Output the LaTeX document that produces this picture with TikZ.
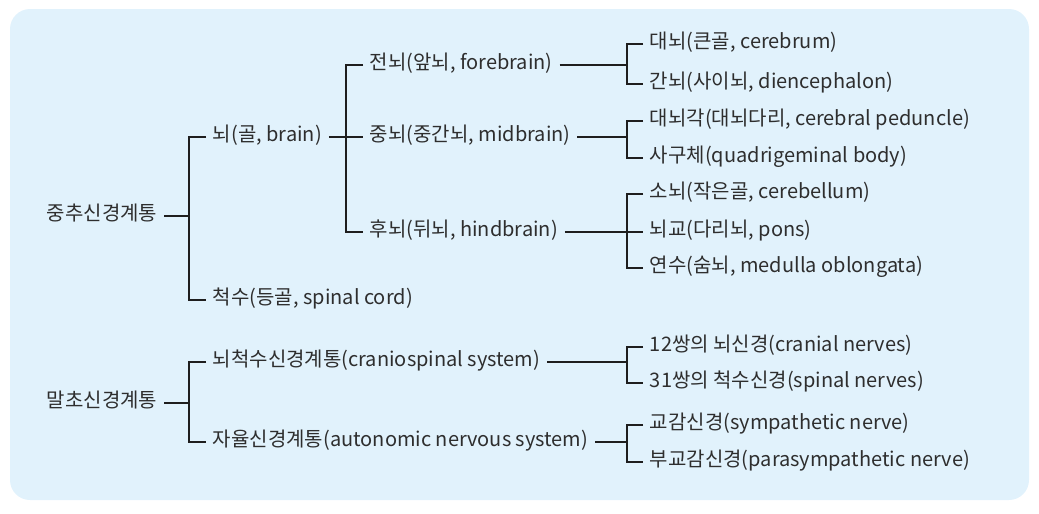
\documentclass[tikz,border=0pt]{standalone}
\usepackage{fontspec}
\setmainfont{Noto Sans CJK KR}
\definecolor{bgc}{HTML}{E1F2FC}
\definecolor{txt}{HTML}{2E2E2E}
\definecolor{lnc}{HTML}{1E1E1E}
\begin{document}
\begin{tikzpicture}[x=0.75pt,y=-0.75pt,
  lbl/.style={anchor=west, inner xsep=5pt, inner ysep=0pt, text height=0.8em, text depth=0.2em,
    font=\fontsize{15pt}{18pt}\selectfont, text=txt},
  ln/.style={draw=lnc, line width=0.9pt}]
\useasboundingbox (0,0) rectangle (1039,514);
\fill[bgc, rounded corners=15pt] (10,9) rectangle (1029,500);

% column anchors
\coordinate (a0) at (189,0);
\coordinate (a1) at (346,0);
\coordinate (a2) at (627,0);

% central nervous system
\node[lbl] (cns) at (40,216) {중추신경계통};
\node[lbl] (brain) at (206,137) {뇌(골, brain)};
\node[lbl] (spinal) at (206,300) {척수(등골, spinal cord)};
\node[lbl] (fore) at (363,65) {전뇌(앞뇌, forebrain)};
\node[lbl] (mid) at (363,137) {중뇌(중간뇌, midbrain)};
\node[lbl] (hind) at (363,232) {후뇌(뒤뇌, hindbrain)};
\node[lbl] (cere) at (643,44) {대뇌(큰골, cerebrum)};
\node[lbl] (dien) at (643,84) {간뇌(사이뇌, diencephalon)};
\node[lbl] (ped) at (643,121) {대뇌각(대뇌다리, cerebral peduncle)};
\node[lbl] (quad) at (643,158) {사구체(quadrigeminal body)};
\node[lbl] (cbl) at (643,194) {소뇌(작은골, cerebellum)};
\node[lbl] (pons) at (643,232) {뇌교(다리뇌, pons)};
\node[lbl] (med) at (643,268) {연수(숨뇌, medulla oblongata)};

% peripheral nervous system
\node[lbl] (pns) at (40,403) {말초신경계통};
\node[lbl] (cran) at (206,362) {뇌척수신경계통(craniospinal system)};
\node[lbl] (auto) at (206,442) {자율신경계통(autonomic nervous system)};
\node[lbl] (cn) at (643,347) {12쌍의 뇌신경(cranial nerves)};
\node[lbl] (sn) at (643,383) {31쌍의 척수신경(spinal nerves)};
\node[lbl] (sym) at (643,425) {교감신경(sympathetic nerve)};
\node[lbl] (para) at (643,462) {부교감신경(parasympathetic nerve)};

% connectors
\draw[ln] (cns.east) -- (cns.east -| a0);
\draw[ln] (brain.west) -- (brain.west -| a0) |- (spinal.west);
\draw[ln] (brain.east) -- (mid.west);
\draw[ln] (fore.west) -- (fore.west -| a1) |- (hind.west);
\draw[ln] (fore.east) -- (fore.east -| a2);
\draw[ln] (cere.west) -- (cere.west -| a2) |- (dien.west);
\draw[ln] (mid.east) -- (mid.east -| a2);
\draw[ln] (ped.west) -- (ped.west -| a2) |- (quad.west);
\draw[ln] (hind.east) -- (pons.west);
\draw[ln] (cbl.west) -- (cbl.west -| a2) |- (med.west);

\draw[ln] (pns.east) -- (pns.east -| a0);
\draw[ln] (cran.west) -- (cran.west -| a0) |- (auto.west);
\draw[ln] (cran.east) -- (cran.east -| a2);
\draw[ln] (cn.west) -- (cn.west -| a2) |- (sn.west);
\draw[ln] (auto.east) -- (auto.east -| a2);
\draw[ln] (sym.west) -- (sym.west -| a2) |- (para.west);
\end{tikzpicture}
\end{document}
